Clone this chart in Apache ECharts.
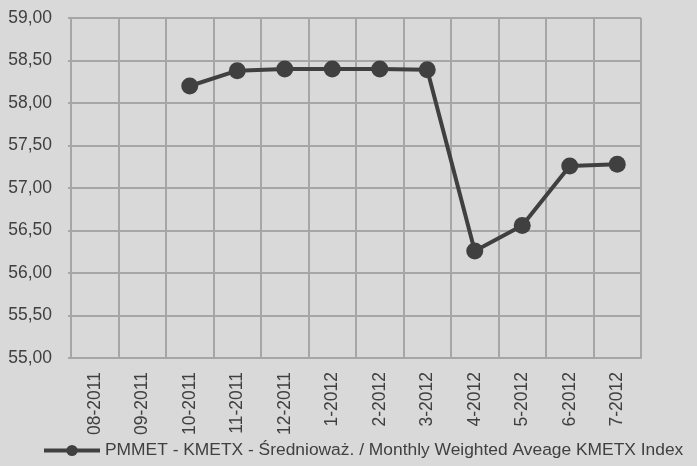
<!DOCTYPE html>
<html>
<head>
<meta charset="utf-8">
<script src="https://cdn.jsdelivr.net/npm/echarts@6/dist/echarts.min.js"></script>
<style>
html, body { margin: 0; padding: 0; background: #d9d9d9; }
#mainView { width: 697px; height: 466px; }
</style>
</head>
<body>
<div id="mainView"></div>
<script>
var months = ['08-2011', '09-2011', '10-2011', '11-2011', '12-2011', '1-2012',
    '2-2012', '3-2012', '4-2012', '5-2012', '6-2012', '7-2012'];
var kmetx = [null, null, 58.20, 58.38, 58.40, 58.40, 58.40, 58.39, 56.26, 56.56, 57.26, 57.28];
var seriesName = 'PMMET - KMETX - Średnioważ. / Monthly Weighted Aveage KMETX Index';

var font = "'Liberation Sans', Arial, sans-serif";
var chart = echarts.init(document.getElementById('mainView'));
chart.setOption({
    backgroundColor: '#d9d9d9',
    animation: false,
    grid: {
        left: 71,
        right: 56,
        top: 18,
        bottom: 108
    },
    legend: {
        data: [seriesName],
        left: 37,
        bottom: 2,
        itemWidth: 56,
        itemHeight: 14,
        lineStyle: { width: 4 },
        textStyle: { color: '#404040', fontSize: 17.4, fontFamily: font }
    },
    xAxis: {
        type: 'category',
        data: months,
        boundaryGap: true,
        axisLine: { lineStyle: { color: '#a6a6a6', width: 2 } },
        axisTick: { show: false },
        splitLine: { show: true, lineStyle: { color: '#a6a6a6', width: 2 } },
        axisLabel: {
            rotate: 90,
            interval: 0,
            margin: 14,
            color: '#404040',
            fontSize: 17.5,
            fontFamily: font
        }
    },
    yAxis: {
        type: 'value',
        min: 55,
        max: 59,
        interval: 0.5,
        axisLine: { show: true, lineStyle: { color: '#a6a6a6', width: 2 } },
        axisTick: { show: true, length: 3, lineStyle: { color: '#a6a6a6', width: 2 } },
        splitLine: { lineStyle: { color: '#a6a6a6', width: 2 } },
        axisLabel: {
            margin: 19,
            color: '#404040',
            fontSize: 17.5,
            fontFamily: font,
            formatter: function (v) { return v.toFixed(2).replace('.', ','); }
        }
    },
    series: [
        {
            name: seriesName,
            type: 'line',
            data: kmetx,
            symbol: 'circle',
            symbolSize: 17,
            itemStyle: { color: '#404040' },
            lineStyle: { color: '#404040', width: 4 }
        }
    ]
});
</script>
</body>
</html>
